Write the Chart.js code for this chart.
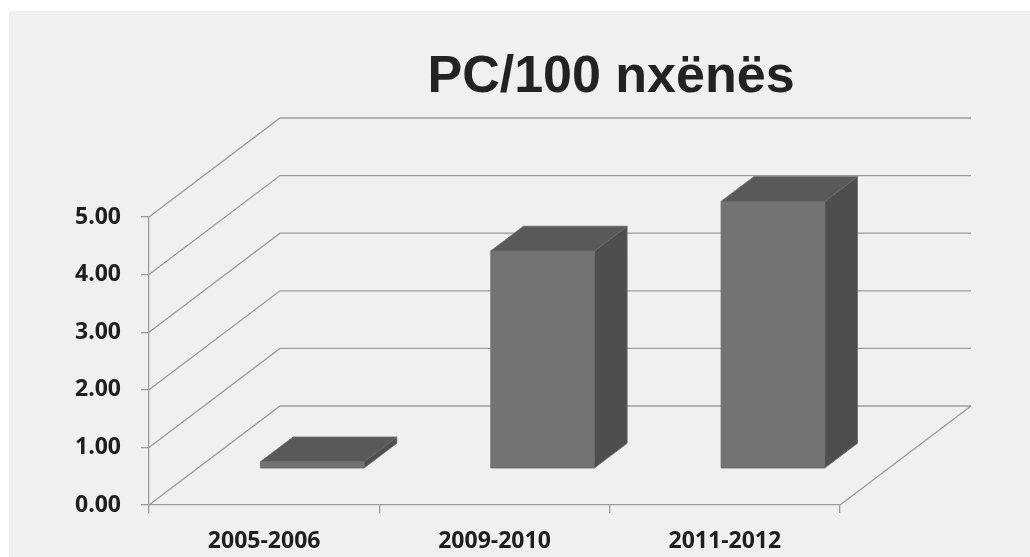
<!DOCTYPE html>
<html>
<head>
<meta charset="utf-8">
<title>PC/100 nxënës</title>
<script src="https://cdn.jsdelivr.net/npm/chart.js@4.4.1/dist/chart.umd.min.js"></script>
<style>
  body { margin: 0; background: #ffffff; }
  canvas { display: block; }
</style>
</head>
<body>
<canvas id="my-chart" width="1030" height="557"></canvas>
<script>
'use strict';

// data
const chartTitle = 'PC/100 nxënës';
const schoolYears = ['2005-2006', '2009-2010', '2011-2012'];
const pcPer100 = [0.12, 3.78, 4.64];
const yTickValues = [0, 1, 2, 3, 4, 5];

// depth of the 3d box (pixels from front plane to back wall)
const DEPTH_X = 131;
const DEPTH_Y = -99;
const BAR_FRONT = 0.367;  // where the bar front sits in the depth
const BAR_DEPTH = 0.25;   // bar thickness as part of the depth

const gridColor = '#9c9c9c';

let canvasElem = document.getElementById('my-chart');

let box3d = {
  id: 'box3d',
  beforeDraw(chart) {
    let ctx = chart.ctx;
    ctx.save();
    ctx.fillStyle = '#ffffff';
    ctx.fillRect(0, 0, chart.width, chart.height);
    ctx.fillStyle = '#f0f0f0';
    ctx.fillRect(9, 11, chart.width - 9, chart.height - 11);

    // title
    ctx.fillStyle = '#222222';
    ctx.font = 'bold 52px "Liberation Sans", Arial, sans-serif';
    ctx.textAlign = 'center';
    ctx.textBaseline = 'alphabetic';
    ctx.fillText(chartTitle, 611, 92);
    ctx.restore();
  },
  beforeDatasetsDraw(chart) {
    let ctx = chart.ctx;
    let area = chart.chartArea;
    let yScale = chart.scales.y;
    ctx.save();
    ctx.strokeStyle = gridColor;
    ctx.lineWidth = 1.3;
    ctx.beginPath();
    for (let i = 0; i < yTickValues.length; i++) {
      let y = yScale.getPixelForValue(yTickValues[i]);
      ctx.moveTo(area.left, y);
      ctx.lineTo(area.left + DEPTH_X, y + DEPTH_Y);
      ctx.lineTo(area.right + DEPTH_X, y + DEPTH_Y);
    }
    // floor right edge
    ctx.moveTo(area.right, area.bottom);
    ctx.lineTo(area.right + DEPTH_X, area.bottom + DEPTH_Y);
    ctx.stroke();
    ctx.restore();
  },
  afterDatasetsDraw(chart) {
    let ctx = chart.ctx;
    let meta = chart.getDatasetMeta(0);
    let fx = DEPTH_X * BAR_FRONT, fy = DEPTH_Y * BAR_FRONT;
    let dx = DEPTH_X * BAR_DEPTH, dy = DEPTH_Y * BAR_DEPTH;
    ctx.save();
    ctx.lineWidth = 0.8;
    ctx.strokeStyle = '#6a6a6a';
    ctx.lineJoin = 'round';
    meta.data.forEach(function (bar) {
      let p = bar.getProps(['x', 'y', 'base', 'width'], true);
      let l = p.x - p.width / 2 + fx;
      let r = p.x + p.width / 2 + fx;
      let t = p.y + fy;
      let b = p.base + fy;

      // side
      ctx.fillStyle = '#4e4e4e';
      ctx.beginPath();
      ctx.moveTo(r, t);
      ctx.lineTo(r + dx, t + dy);
      ctx.lineTo(r + dx, b + dy);
      ctx.lineTo(r, b);
      ctx.closePath();
      ctx.fill();
      ctx.stroke();

      // top
      ctx.fillStyle = '#595959';
      ctx.beginPath();
      ctx.moveTo(l, t);
      ctx.lineTo(l + dx, t + dy);
      ctx.lineTo(r + dx, t + dy);
      ctx.lineTo(r, t);
      ctx.closePath();
      ctx.fill();
      ctx.stroke();

      // front
      ctx.fillStyle = '#737373';
      ctx.fillRect(l, t, r - l, b - t);
      ctx.strokeRect(l, t, r - l, b - t);
    });
    ctx.restore();
  }
};

let chartObj = {
  type: 'bar',
  data: {
    labels: schoolYears,
    datasets: [{
      label: chartTitle,
      data: pcPer100,
      backgroundColor: 'rgba(0,0,0,0)',
      borderWidth: 0,
      categoryPercentage: 1,
      barPercentage: 0.45
    }]
  },
  options: {
    responsive: false,
    animation: false,
    layout: {
      padding: { left: 0, top: 217, right: 190, bottom: 0 }
    },
    plugins: {
      legend: { display: false },
      title: { display: false },
      tooltip: { enabled: false }
    },
    scales: {
      x: {
        offset: true,
        grid: {
          offset: true,
          drawOnChartArea: false,
          drawTicks: true,
          tickLength: 8,
          color: gridColor,
          lineWidth: 1.3
        },
        border: { display: true, color: gridColor, width: 1.3 },
        ticks: {
          padding: 15,
          color: '#1e1e1e',
          font: { family: '"Open Sans", sans-serif', size: 23, weight: 'bold' }
        },
        afterFit(scale) { scale.height = 52; }
      },
      y: {
        min: 0,
        max: 5,
        afterBuildTicks(scale) {
          scale.ticks = yTickValues.map(v => ({ value: v }));
        },
        grid: {
          drawOnChartArea: false,
          drawTicks: true,
          tickLength: 8,
          color: gridColor,
          lineWidth: 1.3
        },
        border: { display: true, color: gridColor, width: 1.3 },
        ticks: {
          padding: 20,
          color: '#1e1e1e',
          font: { family: '"Open Sans", sans-serif', size: 23, weight: 'bold' },
          callback: function (value) { return Number(value).toFixed(2); }
        },
        afterFit(scale) { scale.width = 149; }
      }
    }
  },
  plugins: [box3d]
};

new Chart(canvasElem, chartObj); //eslint-disable-line
</script>
</body>
</html>
